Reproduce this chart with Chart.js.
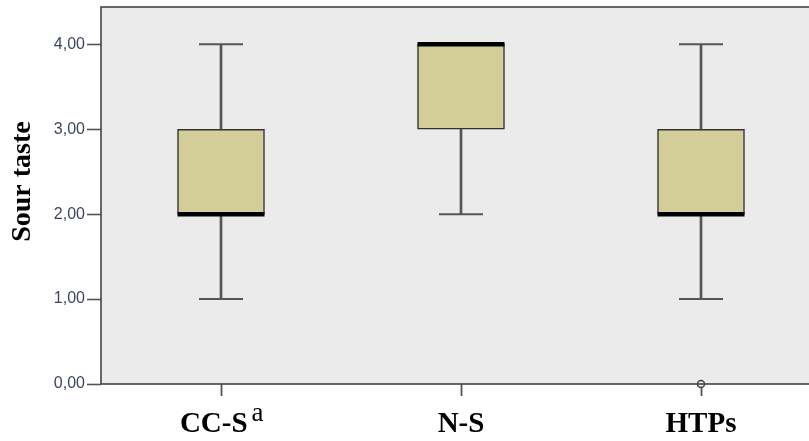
<!DOCTYPE html>
<html>
<head>
<meta charset="utf-8">
<script src="https://cdn.jsdelivr.net/npm/chart.js@4.4.1/dist/chart.umd.min.js"></script>
<style>
  html, body { margin: 0; padding: 0; background: #fff; overflow: hidden; }
  #wrap { position: relative; width: 822px; height: 441px; }
</style>
</head>
<body>
<div id="wrap"><canvas id="c"></canvas></div>
<script>
// Box plot data.
const categories = ['CC-S', 'N-S', 'HTPs'];
const footnote = ['a', '', ''];
const whiskerLow = [1, 2, 1];
const q1 = [2, 3, 2];
const median = [2, 4, 2];
const q3 = [3, 4, 3];
const whiskerHigh = [4, 4, 4];
const outliers = [null, null, 0];
const yTicks = [0, 1, 2, 3, 4];
const yMax = 4.44;

const BOX_FILL = '#d3ce99';
const LINE_GREY = '#555555';

// Bars and points built from the arrays above.
const boxes = categories.map((c, i) => [q1[i], q3[i]]);
const lowWhisker = categories.map((c, i) => whiskerLow[i] < q1[i] ? [whiskerLow[i], q1[i]] : null);
const highWhisker = categories.map((c, i) => whiskerHigh[i] > q3[i] ? [q3[i], whiskerHigh[i]] : null);
const lowCap = categories.map((c, i) => whiskerLow[i] < q1[i] ? whiskerLow[i] : null);
const highCap = categories.map((c, i) => whiskerHigh[i] > q3[i] ? whiskerHigh[i] : null);

// Plot background + frame, SPSS style.
const frame = {
    id: 'frame',
    beforeDatasetsDraw(chart) {
        const { ctx, chartArea: a } = chart;
        ctx.save();
        ctx.fillStyle = '#ebebeb';
        ctx.fillRect(a.left, a.top, a.right - a.left, a.bottom - a.top);
        ctx.restore();
    },
    afterDraw(chart) {
        const { ctx, chartArea: a } = chart;
        ctx.save();
        ctx.strokeStyle = '#444';
        ctx.lineWidth = 1.6;
        ctx.strokeRect(a.left, a.top, a.right - a.left, a.bottom - a.top);
        // superscript footnote marks next to category labels
        const xs = chart.scales.x;
        footnote.forEach((f, i) => {
            if (!f) return;
            ctx.font = 'bold 29px "Liberation Serif"';
            const full = ctx.measureText(categories[i] + '  ').width;
            const base = ctx.measureText(categories[i]).width;
            const x0 = xs.getPixelForTick(i) - full / 2 + base + 4;
            ctx.font = '27px "Liberation Serif"';
            ctx.fillStyle = '#000';
            ctx.textBaseline = 'alphabetic';
            ctx.textAlign = 'left';
            ctx.fillText(f, x0, xs.top + 37);
        });
        ctx.restore();
    }
};

function pointSet(data, style, radius, width, color, order) {
    return {
        type: 'line', data, showLine: false, order, clip: false,
        pointStyle: style, pointRadius: radius, pointHoverRadius: radius,
        pointBorderWidth: width, pointHoverBorderWidth: width,
        pointBorderColor: color, pointBackgroundColor: '#ebebeb'
    };
}

new Chart(document.getElementById('c'), {
    type: 'bar',
    data: {
        labels: categories,
        datasets: [
            { data: lowWhisker, grouped: false, barThickness: 2, backgroundColor: LINE_GREY, borderWidth: 0, order: 6 },
            { data: highWhisker, grouped: false, barThickness: 2, backgroundColor: LINE_GREY, borderWidth: 0, order: 6 },
            { data: boxes, grouped: false, barThickness: 87, backgroundColor: BOX_FILL, borderColor: '#333',
              borderWidth: 1.5, borderSkipped: false, order: 5 },
            pointSet(lowCap, 'line', 22, 2, LINE_GREY, 3),
            pointSet(highCap, 'line', 22, 2, LINE_GREY, 3),
            pointSet(median, 'line', 43.5, 4.5, '#000', 2),
            pointSet(outliers, 'circle', 3.5, 1.5, '#444', 1)
        ]
    },
    options: {
        responsive: true,
        maintainAspectRatio: false,
        animation: false,
        layout: { autoPadding: false, padding: { top: 7, right: 1, left: 0, bottom: 0 } },
        plugins: { legend: { display: false }, tooltip: { enabled: false } },
        scales: {
            x: {
                offset: true,
                afterFit(s) { s.height = 57; s.paddingLeft = 0; s.paddingRight = 0; },
                border: { display: false },
                grid: { offset: false, drawOnChartArea: false, drawTicks: true, tickLength: 12, tickWidth: 1.8, tickColor: LINE_GREY },
                ticks: {
                    maxRotation: 0, autoSkip: false, padding: 11, color: '#000',
                    font: { family: 'Liberation Serif', size: 29, weight: 'bold' },
                    callback: (v, i) => categories[i] + (footnote[i] ? '  ' : '')
                }
            },
            y: {
                min: 0,
                max: yMax,
                afterFit(s) { s.width = 101; s.paddingTop = 0; s.paddingBottom = 0; },
                afterBuildTicks(s) { s.ticks = yTicks.map(v => ({ value: v })); },
                border: { display: false },
                grid: { drawOnChartArea: false, drawTicks: true, tickLength: 14, tickWidth: 1.6, tickColor: LINE_GREY },
                ticks: {
                    padding: 2, color: '#3c4664',
                    font: { family: 'Liberation Sans', size: 16 },
                    callback: v => v.toFixed(2).replace('.', ',')
                },
                title: {
                    display: true, text: '    Sour taste', color: '#000',
                    font: { family: 'Liberation Serif', size: 28, weight: 'bold' },
                    padding: { top: 6, bottom: 0 }
                }
            }
        }
    },
    plugins: [frame]
});
</script>
</body>
</html>
